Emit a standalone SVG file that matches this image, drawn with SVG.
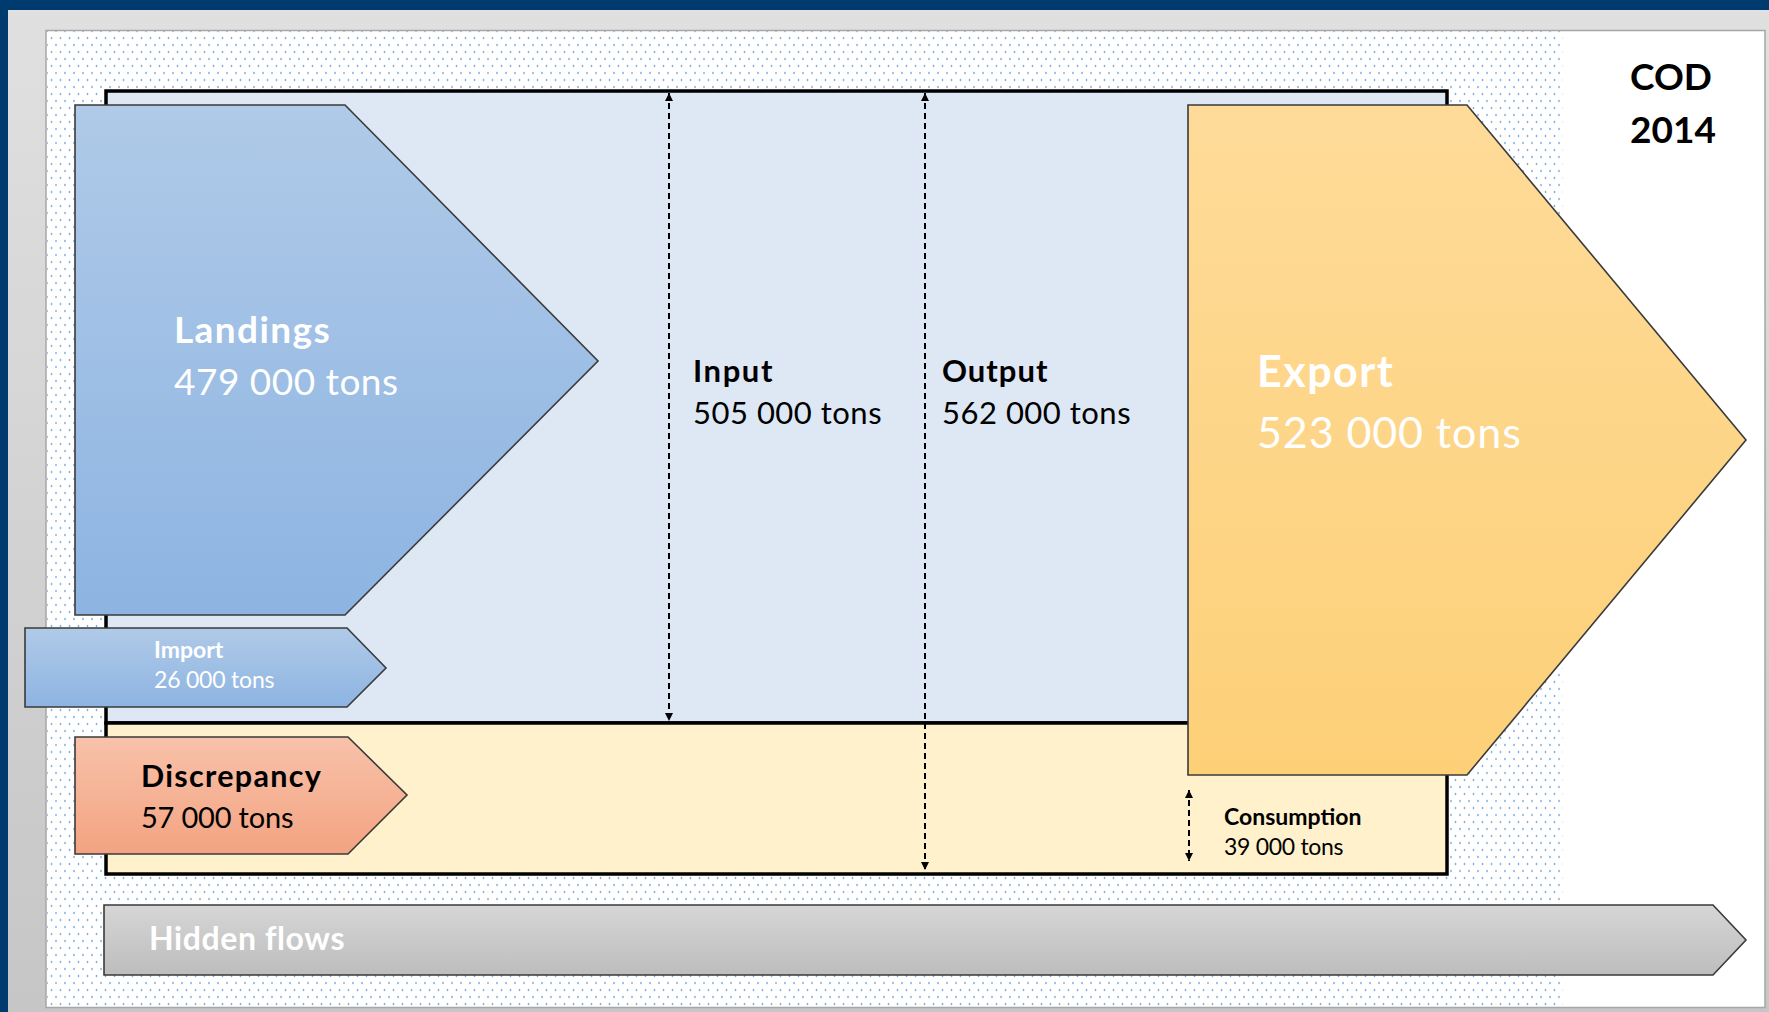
<svg xmlns="http://www.w3.org/2000/svg" width="1769" height="1012" viewBox="0 0 1769 1012">
<style>
text{font-family:Lato,"Open Sans","Liberation Sans",sans-serif}
.b{font-weight:bold}
.w{fill:#ffffff}
.k{fill:#000000}
.shape{stroke:#3a3a3a;stroke-width:1.6}
.box{stroke:#000;stroke-width:3.5}
.dash{stroke:#000;stroke-width:2;stroke-dasharray:6 4;fill:none}
</style>
<defs>
<pattern id="dots" width="9" height="14" patternUnits="userSpaceOnUse">
<ellipse cx="2" cy="3" rx="0.8" ry="1.3" fill="#7fb0e0"/>
<ellipse cx="6.5" cy="10" rx="0.8" ry="1.3" fill="#7fb0e0"/>
</pattern>
<linearGradient id="gFrame" x1="0" y1="0" x2="0" y2="1"><stop offset="0" stop-color="#e0e0e0"/><stop offset="1" stop-color="#c6c6c6"/></linearGradient>
<linearGradient id="gBlue" x1="0" y1="0" x2="0" y2="1"><stop offset="0" stop-color="#b0cae8"/><stop offset="1" stop-color="#8db4e2"/></linearGradient>
<linearGradient id="gSalmon" x1="0" y1="0" x2="0" y2="1"><stop offset="0" stop-color="#f8c2aa"/><stop offset="1" stop-color="#f3a381"/></linearGradient>
<linearGradient id="gGold" x1="0" y1="0" x2="0" y2="1"><stop offset="0" stop-color="#fedb99"/><stop offset="1" stop-color="#fdd078"/></linearGradient>
<linearGradient id="gGray" x1="0" y1="0" x2="0" y2="1"><stop offset="0" stop-color="#d6d6d6"/><stop offset="1" stop-color="#bdbdbd"/></linearGradient>
<marker id="ah" viewBox="0 0 10 10" refX="10" refY="5" markerWidth="9" markerHeight="8" markerUnits="userSpaceOnUse" orient="auto-start-reverse">
<path d="M0,0 L10,5 L0,10 z" fill="#000"/>
</marker>
</defs>

<g id="background">
<rect x="0" y="0" width="1769" height="1012" fill="#003b6f"/>
<rect x="8" y="10" width="1761" height="1002" fill="url(#gFrame)"/>
<rect x="46" y="30.5" width="1719" height="977" fill="#ffffff" stroke="#a6a6a6" stroke-width="1.5"/>
<rect x="47" y="31" width="1516" height="976" fill="url(#dots)"/>
</g>

<g id="main-box">
<rect class="box" x="106" y="91" width="1341" height="632" fill="#dde8f4"/>
</g>
<g id="lower-box">
<rect class="box" x="106" y="723" width="1341" height="151" fill="#fff1cc"/>
</g>

<g id="connectors">
<line class="dash" x1="669" y1="93" x2="669" y2="721" marker-start="url(#ah)" marker-end="url(#ah)"/>
<line class="dash" x1="925" y1="93" x2="925" y2="870" marker-start="url(#ah)" marker-end="url(#ah)"/>
<line class="dash" x1="1189" y1="790" x2="1189" y2="861" marker-start="url(#ah)" marker-end="url(#ah)"/>
</g>

<g id="landings">
<polygon class="shape" points="75,105 345,105 598,361 345,615 75,615" fill="url(#gBlue)"/>
<text class="b w" x="174" y="343" font-size="37" letter-spacing="1.4">Landings</text>
<text class="w" x="174" y="395" font-size="37" letter-spacing="0.5">479 000 tons</text>
</g>

<g id="import">
<polygon class="shape" points="25,628 347,628 386,668 347,707 25,707" fill="url(#gBlue)"/>
<text class="b w" x="154" y="658" font-size="23">Import</text>
<text class="w" x="154" y="688" font-size="23" letter-spacing="-0.2">26 000 tons</text>
</g>

<g id="discrepancy">
<polygon class="shape" points="75,737 348,737 407,795 348,854 75,854" fill="url(#gSalmon)"/>
<text class="b k" x="141" y="787" font-size="30.5" letter-spacing="1.3">Discrepancy</text>
<text class="k" x="141" y="828" font-size="29" letter-spacing="-0.2">57 000 tons</text>
</g>

<g id="input-label">
<text class="b k" x="693" y="382" font-size="31" letter-spacing="1.6">Input</text>
<text class="k" x="693" y="424" font-size="31" letter-spacing="0.5">505 000 tons</text>
</g>

<g id="output-label">
<text class="b k" x="942" y="382" font-size="31" letter-spacing="1">Output</text>
<text class="k" x="942" y="424" font-size="31" letter-spacing="0.5">562 000 tons</text>
</g>

<g id="export">
<polygon class="shape" points="1188,105 1467,105 1746,440 1467,775 1188,775" fill="url(#gGold)"/>
<text class="b w" x="1257" y="387" font-size="43" letter-spacing="1.5">Export</text>
<text class="w" x="1257" y="448" font-size="43" letter-spacing="0.9">523 000 tons</text>
</g>

<g id="consumption">
<text class="b k" x="1224" y="825" font-size="23">Consumption</text>
<text class="k" x="1224" y="855" font-size="23" letter-spacing="-0.3">39 000 tons</text>
</g>

<g id="hidden-flows">
<polygon class="shape" points="104,905 1713,905 1746,940 1713,975 104,975" fill="url(#gGray)"/>
<text class="b w" x="149" y="950" font-size="32" letter-spacing="0.6">Hidden flows</text>
</g>

<g id="title">
<text class="b k" x="1630" y="90" font-size="37">COD</text>
<text class="b k" x="1630" y="143" font-size="37">2014</text>
</g>
</svg>
